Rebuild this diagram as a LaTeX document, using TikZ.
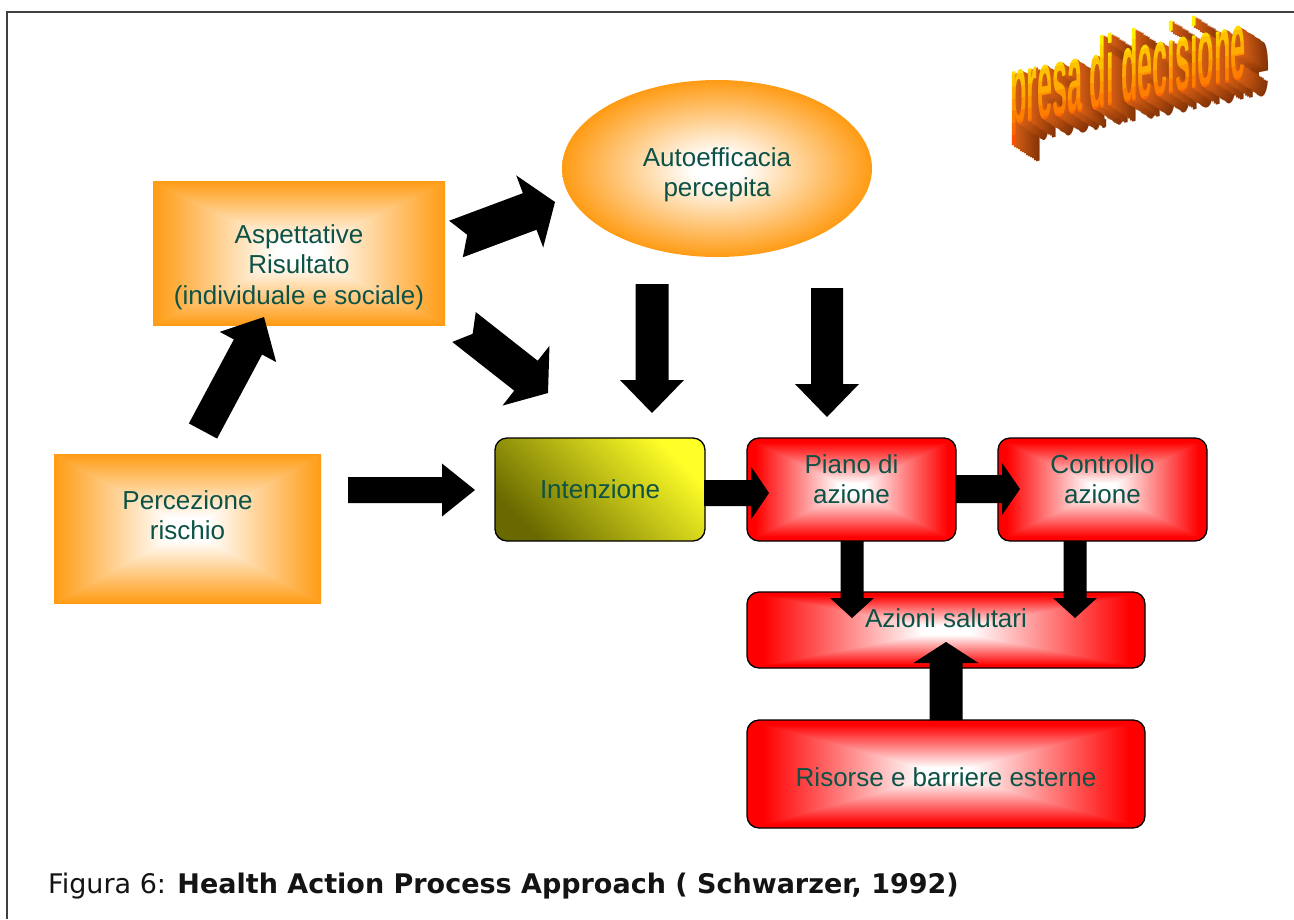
\documentclass[tikz,border=0pt]{standalone}
\usepackage{fontspec}
\setmainfont{Liberation Sans}
\newfontfamily\capfont{DejaVu Sans}
\usetikzlibrary{calc,shapes.geometric}

\definecolor{myorange}{RGB}{255,155,20}
\definecolor{txtgreen}{RGB}{12,82,70}
\definecolor{framegray}{RGB}{64,64,64}
\definecolor{olivedark}{RGB}{105,105,0}
\definecolor{yellowbright}{RGB}{255,255,40}
\definecolor{extrdark}{RGB}{120,45,5}
\definecolor{extrlight}{RGB}{215,95,20}
\definecolor{waTop}{RGB}{255,240,0}
\definecolor{waBot}{RGB}{255,80,0}
\definecolor{capcol}{RGB}{20,20,20}

\pgfdeclarefunctionalshading{rectorange}{\pgfpoint{-50bp}{-50bp}}{\pgfpoint{50bp}{50bp}}{}{
 abs exch abs 2 copy lt {exch} if pop
 25 div dup 1 gt {pop 1} if
 0.15 sub 0.85 div dup 0 lt {pop 0} if
 dup 0 mul 1 exch sub
 exch dup 0.39 mul 1 exch sub
 exch 0.92 mul 1 exch sub
}
\pgfdeclarefunctionalshading{rectred}{\pgfpoint{-50bp}{-50bp}}{\pgfpoint{50bp}{50bp}}{}{
 abs exch abs 2 copy lt {exch} if pop
 25 div dup 1 gt {pop 1} if
 0.12 sub 0.8 div dup 0 lt {pop 0} if dup 1 gt {pop 1} if
 1 exch dup 1 exch sub exch 1 exch sub
}
\pgfdeclareradialshading{ellorange}{\pgfpoint{0bp}{0bp}}{color(0bp)=(white); color(4bp)=(white); color(25bp)=(myorange); color(50bp)=(myorange)}

\tikzset{
  obox/.style={rectangle, inner sep=0pt, shading=rectorange},
  rbox/.style={rectangle, inner sep=0pt, rounded corners=12pt, draw=black, line width=1.3pt, shading=rectred},
  ybox/.style={rectangle, inner sep=0pt, rounded corners=12pt, draw=black, line width=1.3pt, top color=yellowbright, bottom color=olivedark, shading angle=-45},
  ell/.style={ellipse, inner sep=0pt, shading=ellorange},
  txt/.style={text=txtgreen, font=\fontsize{26}{30.5}\selectfont, align=center, inner sep=0pt, anchor=north, yshift=21.35pt},
  arrowfill/.style={fill=black},
  wa/.style={anchor=base west, inner sep=0pt, transform shape, font=\fontsize{100}{100}\selectfont\bfseries},
}

\newcommand\blockarr[6]{%
  \path ($(#2)!#5!(#1)$) coordinate (hb) ($(#1)!#6!(#2)$) coordinate (nt);
  \fill[arrowfill] ($(#1)!#3!90:(#2)$) -- ($(hb)!#3!90:(#2)$) -- ($(hb)!#4!90:(#2)$) -- (#2) -- ($(hb)!#4!-90:(#2)$) -- ($(hb)!#3!-90:(#2)$) -- ($(#1)!#3!-90:(#2)$) -- (nt) -- cycle;
}

\begin{document}
\begin{tikzpicture}[x=1pt,y=-1pt]
\useasboundingbox (0,0) rectangle (1294,919);
\fill[white] (0,0) rectangle (1294,919);

% frame
\draw[framegray, line width=2pt] (7,919) -- (7,12) -- (1294,12);

% boxes
\node[obox, minimum width=292pt, minimum height=144pt] (asp) at (299,253) {};
\node[obox, minimum width=267pt, minimum height=149pt] (perc) at (187.5,528.5) {};
\node[ell, minimum width=310pt, minimum height=177pt] (auto) at (717,168.5) {};
\node[ybox, minimum width=210pt, minimum height=103pt] (int) at (600,489.5) {};
\node[rbox, minimum width=209pt, minimum height=103pt] (piano) at (851.5,489.5) {};
\node[rbox, minimum width=209pt, minimum height=103pt] (contr) at (1102.5,489.5) {};
\node[rbox, minimum width=398pt, minimum height=76pt] (azioni) at (946,630) {};
\node[rbox, minimum width=398pt, minimum height=108pt] (risorse) at (946,774) {};

% arrow end points
\coordinate (a1s) at (203,431);  \coordinate (a1e) at (264,317);
\coordinate (a2s) at (456,239);  \coordinate (a2e) at (555,202);
\coordinate (a3s) at (464,327);  \coordinate (a3e) at (548,393);
\coordinate (a4s) at (652,284);  \coordinate (a4e) at (652,413);
\coordinate (a5s) at (827,288);  \coordinate (a5e) at (827,417);
\coordinate (a6s) at (348,490);  \coordinate (a6e) at (475,490);
\coordinate (a7s) at (704,493);  \coordinate (a7e) at (769,493);
\coordinate (a8s) at (956,489);  \coordinate (a8e) at (1020,489);
\coordinate (a9s) at (852,541);  \coordinate (a9e) at (852,618);
\coordinate (a10s) at (1075,541); \coordinate (a10e) at (1075,618);
\coordinate (a11s) at (946,720); \coordinate (a11e) at (946,642);

\blockarr{a1s}{a1e}{16pt}{32pt}{34pt}{0pt}
\blockarr{a2s}{a2e}{19.5pt}{38.5pt}{27pt}{12pt}
\blockarr{a3s}{a3e}{19pt}{38pt}{28pt}{11pt}
\blockarr{a4s}{a4e}{16.5pt}{32pt}{33pt}{0pt}
\blockarr{a5s}{a5e}{16pt}{32pt}{33pt}{0pt}
\blockarr{a6s}{a6e}{13pt}{26.5pt}{33pt}{0pt}
\blockarr{a7s}{a7e}{13pt}{26.5pt}{18pt}{0pt}
\blockarr{a8s}{a8e}{14pt}{26pt}{18pt}{0pt}
\blockarr{a9s}{a9e}{11.5pt}{22pt}{20pt}{0pt}
\blockarr{a10s}{a10e}{11.5pt}{22pt}{20pt}{0pt}
\blockarr{a11s}{a11e}{16.5pt}{32.5pt}{21pt}{0pt}

% texts
\node[txt] (aspT) at (299,243) {\strut Aspettative\\Risultato\\(individuale e sociale)};
\node[txt] (percT) at (187.5,509) {\strut Percezione\\rischio};
\node[txt] (autoT) at (717,166) {\strut Autoefficacia\\percepita};
\node[txt] (intT) at (600,498) {\strut Intenzione};
\node[txt] (pianoT) at (851.5,473) {\strut Piano di\\azione};
\node[txt] (contrT) at (1102.5,473) {\strut Controllo\\azione};
\node[txt] (azT) at (946,627) {\strut Azioni salutari};
\node[txt] (risT) at (946,786) {\strut Risorse e barriere esterne};

% caption
\node[anchor=base west, inner sep=0pt, text=capcol, font=\capfont\fontsize{27}{30}\selectfont] (cap) at (48,893) {Figura 6: \textbf{Health Action Process Approach ( Schwarzer, 1992)}};

% WordArt
\begin{scope}[shift={(1010,126)}, yslant=0.2]
  \foreach \i in {12,11,...,1} {
    \pgfmathsetmacro\f{100-\i*7}
    \node[wa, text=extrlight!\f!extrdark] at (2*\i, 1.7*\i) {\scalebox{0.27}[1]{presa di decisione}};
  }
  \foreach \k in {0,...,7} {
    \pgfmathsetmacro\p{100-\k*100/7}
    \pgfmathsetmacro\ya{\k==0 ? -150 : -75+\k*12}
    \pgfmathsetmacro\yb{\k==7 ? 60 : -75+(\k+1)*12+0.6}
    \begin{scope}
      \clip (-20,\ya) rectangle (300,\yb);
      \node[wa, text=waTop!\p!waBot] (wa\k) at (0,0) {\scalebox{0.27}[1]{presa di decisione}};
    \end{scope}
  }
\end{scope}
\end{tikzpicture}
\end{document}
